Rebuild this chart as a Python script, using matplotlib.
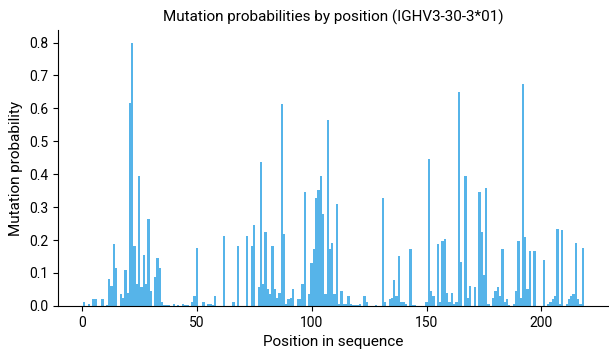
import numpy as np
import matplotlib
matplotlib.use('Agg')
import matplotlib.pyplot as plt

plt.rcParams['font.family'] = ['Roboto', 'DejaVu Sans']

# Mutation probability per position (1..218)
probs = [
           0.013, 0.000, 0.007, 0.000, 0.020, 0.020, 0.000, 0.000, 0.020,  # 1-9
    0.000, 0.002, 0.081, 0.060, 0.189, 0.115, 0.000, 0.035, 0.023, 0.109,  # 10-19
    0.038, 0.616, 0.798, 0.183, 0.066, 0.395, 0.056, 0.155, 0.066, 0.263,  # 20-29
    0.044, 0.000, 0.087, 0.146, 0.115, 0.013, 0.003, 0.003, 0.003, 0.000,  # 30-39
    0.007, 0.000, 0.002, 0.000, 0.007, 0.002, 0.002, 0.000, 0.013, 0.029,  # 40-49
    0.176, 0.000, 0.000, 0.013, 0.000, 0.007, 0.007, 0.003, 0.029, 0.001,  # 50-59
    0.001, 0.000, 0.213, 0.000, 0.000, 0.000, 0.013, 0.001, 0.183, 0.000,  # 60-69
    0.000, 0.000, 0.213, 0.000, 0.183, 0.247, 0.000, 0.056, 0.438, 0.066,  # 70-79
    0.226, 0.050, 0.035, 0.183, 0.050, 0.023, 0.038, 0.613, 0.219, 0.007,  # 80-89
    0.020, 0.023, 0.050, 0.000, 0.020, 0.020, 0.066, 0.346, 0.000, 0.035,  # 90-99
    0.130, 0.173, 0.327, 0.352, 0.395, 0.278, 0.035, 0.564, 0.173, 0.192,  # 100-109
    0.035, 0.309, 0.007, 0.044, 0.007, 0.007, 0.029, 0.007, 0.002, 0.002,  # 110-119
    0.002, 0.007, 0.000, 0.029, 0.013, 0.000, 0.000, 0.000, 0.002, 0.000,  # 120-129
    0.000, 0.327, 0.013, 0.000, 0.020, 0.023, 0.078, 0.029, 0.152, 0.013,  # 130-139
    0.013, 0.007, 0.000, 0.173, 0.002, 0.002, 0.000, 0.000, 0.000, 0.000,  # 140-149
    0.013, 0.447, 0.044, 0.029, 0.000, 0.189, 0.013, 0.198, 0.204, 0.038,  # 150-159
    0.013, 0.038, 0.007, 0.013, 0.650, 0.133, 0.000, 0.395, 0.023, 0.060,  # 160-169
    0.000, 0.056, 0.000, 0.346, 0.226, 0.093, 0.358, 0.007, 0.000, 0.023,  # 170-179
    0.044, 0.056, 0.029, 0.173, 0.013, 0.020, 0.003, 0.000, 0.007, 0.044,  # 180-189
    0.198, 0.023, 0.675, 0.210, 0.050, 0.167, 0.000, 0.167, 0.000, 0.000,  # 190-199
    0.000, 0.139, 0.000, 0.007, 0.013, 0.020, 0.029, 0.235, 0.007, 0.232,  # 200-209
    0.000, 0.007, 0.020, 0.029, 0.035, 0.192, 0.020, 0.007, 0.176,         # 210-218
]
positions = np.arange(1, len(probs) + 1)

fig, ax = plt.subplots(figsize=(6.09, 3.5), dpi=100)
ax.bar(positions, probs, width=1.0, color='#56B4E9')

ax.set_title('Mutation probabilities by position (IGHV3-30-3*01)', fontsize=11)
ax.set_xlabel('Position in sequence', fontsize=11)
ax.set_ylabel('Mutation probability', fontsize=11)
ax.tick_params(labelsize=10)
ax.spines['top'].set_visible(False)
ax.spines['right'].set_visible(False)

plt.subplots_adjust(left=0.095, right=1.0, bottom=0.126, top=0.914)
plt.savefig('out.png')
